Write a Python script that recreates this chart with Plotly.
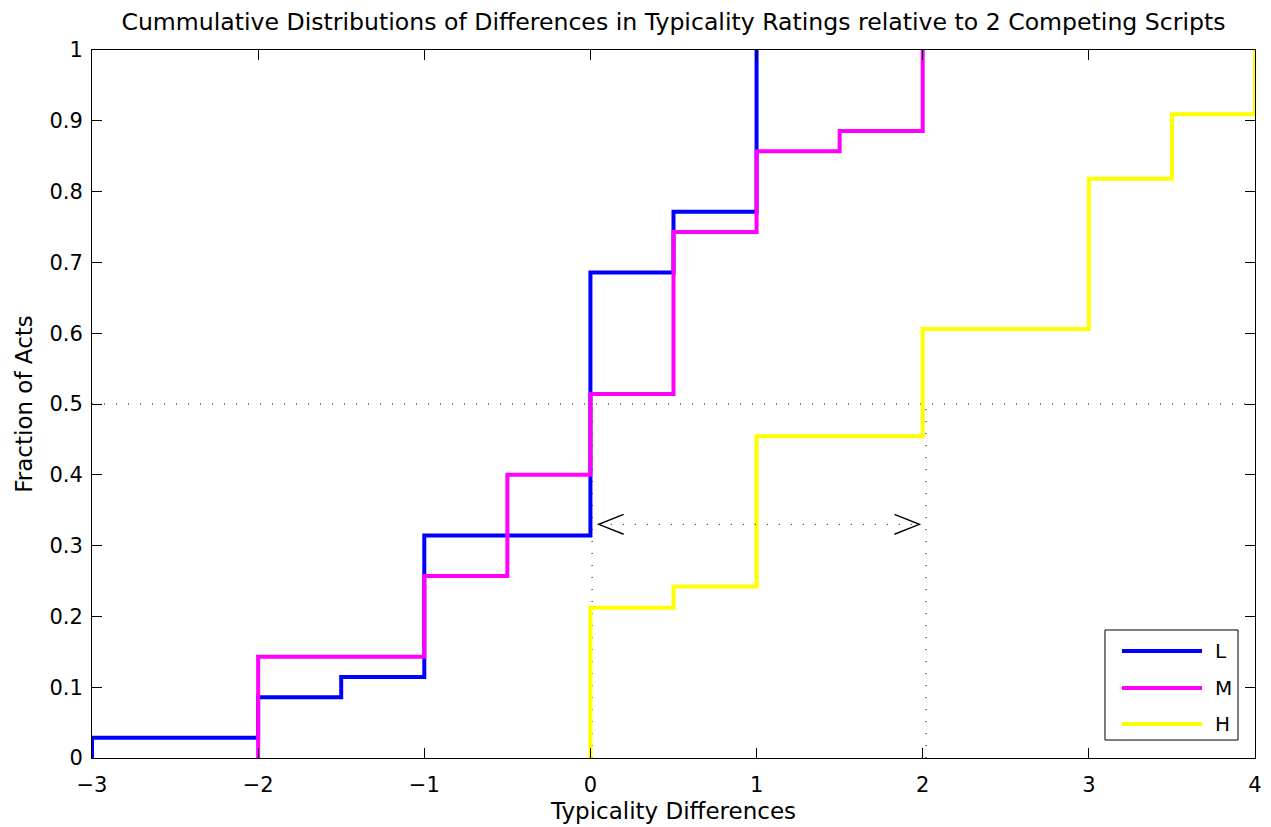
import plotly.graph_objects as go

# ---- data ----
L_x = [-3, -2, -1.5, -1, 0, 0.5, 1]
L_y = [0.0286, 0.0857, 0.1143, 0.3143, 0.6857, 0.7714, 1.0]

M_x = [-2, -1, -0.5, 0, 0.5, 1, 1.5, 2]
M_y = [0.1429, 0.2571, 0.4, 0.5143, 0.7429, 0.8571, 0.8857, 1.0]

H_x = [0, 0.5, 1, 2, 3, 3.5, 4]
H_y = [0.2121, 0.2424, 0.4545, 0.6061, 0.8182, 0.9091, 1.0]

series = [
    ("L", L_x, L_y, "#0000FF"),
    ("M", M_x, M_y, "#FF00FF"),
    ("H", H_x, H_y, "#FFFF00"),
]

x_ticks = [-3, -2, -1, 0, 1, 2, 3, 4]
x_tick_labels = ["\u22123", "\u22122", "\u22121", "0", "1", "2", "3", "4"]
y_ticks = [0, 0.1, 0.2, 0.3, 0.4, 0.5, 0.6, 0.7, 0.8, 0.9, 1.0]
y_tick_labels = ["0", "0.1", "0.2", "0.3", "0.4", "0.5", "0.6", "0.7", "0.8", "0.9", "1"]

# annotation geometry (median guide lines and arrow)
median_level = 0.5
median_L = 0.01
median_H = 2.02
arrow_y = 0.33
arrow_x0, arrow_x1 = 0.05, 1.98

FONT = "DejaVu Sans, Verdana, sans-serif"

fig = go.Figure()
for name, xs, ys, color in series:
    fig.add_trace(go.Scatter(
        x=[xs[0]] + xs, y=[0] + ys, mode="lines", name=name,
        line=dict(color=color, width=4, shape="hv"),
        showlegend=False, hoverinfo="x+y+name",
    ))

dot = dict(color="black", width=1, dash="1px,11px")
shapes = [
    dict(type="line", xref="x", yref="y", x0=-3, x1=4, y0=median_level, y1=median_level, line=dot, layer="below"),
    dict(type="line", xref="x", yref="y", x0=median_L, x1=median_L, y0=0, y1=median_level, line=dot, layer="below"),
    dict(type="line", xref="x", yref="y", x0=median_H, x1=median_H, y0=0, y1=median_level, line=dot, layer="below"),
    dict(type="line", xref="x", yref="y", x0=arrow_x0, x1=arrow_x1, y0=arrow_y, y1=arrow_y, line=dot),
]
# chevron arrowheads
hx, hy = 0.15, 0.014
head = dict(color="black", width=1.4)
shapes += [
    dict(type="path", xref="x", yref="y",
         path=f"M {arrow_x0+hx},{arrow_y+hy} L {arrow_x0},{arrow_y} L {arrow_x0+hx},{arrow_y-hy}", line=head),
    dict(type="path", xref="x", yref="y",
         path=f"M {arrow_x1-hx},{arrow_y+hy} L {arrow_x1},{arrow_y} L {arrow_x1-hx},{arrow_y-hy}", line=head),
]

# manual legend (MATLAB style)
lg_x0, lg_x1, lg_y0, lg_y1 = 0.871, 0.9854, 0.0254, 0.1808
shapes.append(dict(type="rect", xref="paper", yref="paper", x0=lg_x0, x1=lg_x1, y0=lg_y0, y1=lg_y1,
                   line=dict(color="black", width=1), fillcolor="white"))
annotations = []
item_y = [0.1511, 0.0989, 0.048]
for (name, xs, ys, color), yy in zip(series, item_y):
    shapes.append(dict(type="line", xref="paper", yref="paper", x0=0.8856, x1=0.9544, y0=yy, y1=yy,
                       line=dict(color=color, width=4)))
    annotations.append(dict(xref="paper", yref="paper", x=0.9639, y=yy, text=name, showarrow=False,
                            xanchor="left", yanchor="middle", font=dict(family=FONT, size=20, color="black")))

fig.update_layout(
    width=1271, height=827,
    margin=dict(l=92, r=16, t=50, b=69),
    paper_bgcolor="white", plot_bgcolor="white",
    font=dict(family=FONT, color="black"),
    title=dict(text="Cummulative Distributions of Differences in Typicality Ratings relative to 2 Competing Scripts",
               x=0.5, xref="paper", xanchor="center", y=1 - 22 / 827, yanchor="middle",
               font=dict(family=FONT, size=23.6, color="black")),
    shapes=shapes, annotations=annotations,
    showlegend=False,
)
fig.update_xaxes(
    range=[-3, 4], tickvals=x_ticks, ticktext=x_tick_labels, automargin=False,
    ticks="inside", ticklen=10, tickwidth=1, tickcolor="black",
    showline=True, linecolor="black", linewidth=1, mirror="ticks",
    showgrid=False, zeroline=False, tickfont=dict(size=21, family=FONT),
    ticklabelstandoff=8,
    title=dict(text="Typicality Differences", font=dict(size=23, family=FONT), standoff=6),
)
fig.update_yaxes(
    range=[0, 1], tickvals=y_ticks, ticktext=y_tick_labels, automargin=False,
    ticks="inside", ticklen=10, tickwidth=1, tickcolor="black",
    showline=True, linecolor="black", linewidth=1, mirror="ticks",
    showgrid=False, zeroline=False, tickfont=dict(size=21, family=FONT),
    ticklabelstandoff=4,
    title=dict(text="Fraction of Acts", font=dict(size=23, family=FONT), standoff=10),
)

fig.write_html("out.html")
